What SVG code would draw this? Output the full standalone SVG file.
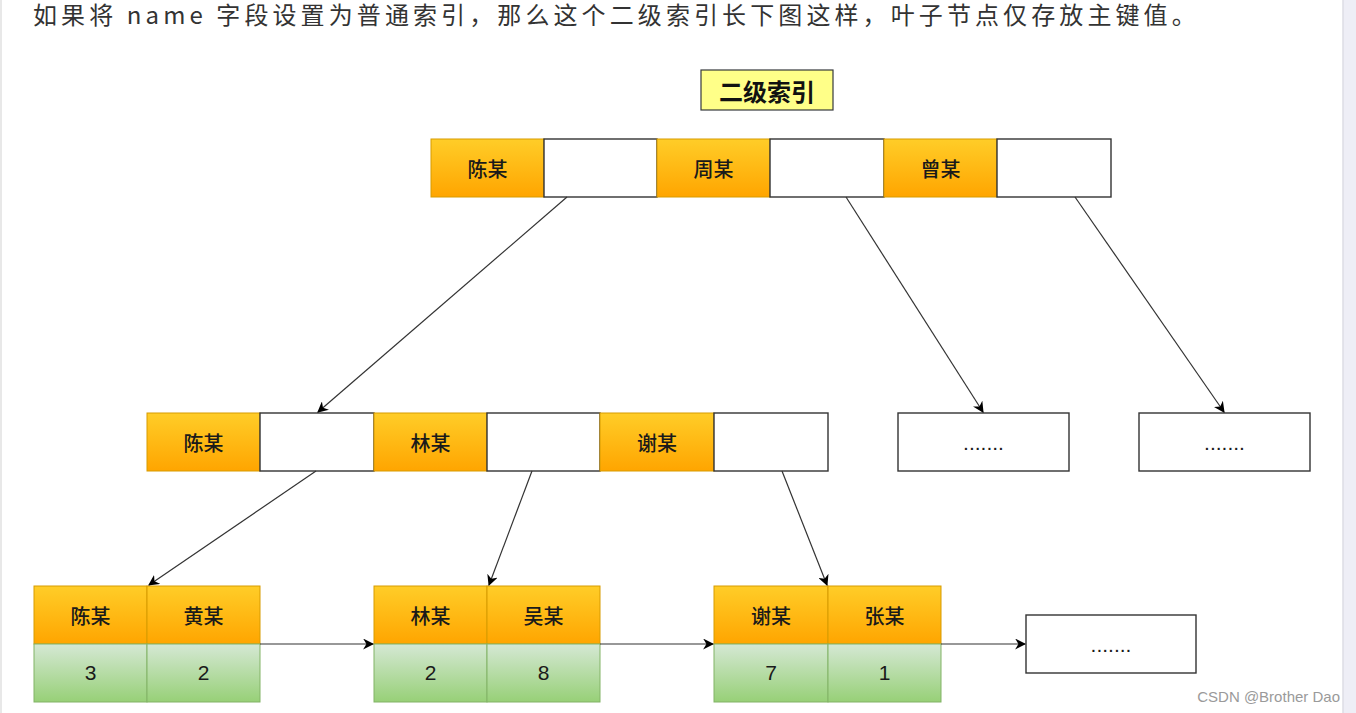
<svg xmlns="http://www.w3.org/2000/svg" width="1356" height="713" viewBox="0 0 1356 713">
<defs>
<linearGradient id="gOr" x1="0" y1="0" x2="0" y2="1"><stop offset="0" stop-color="#ffcd28"/><stop offset="1" stop-color="#ffa500"/></linearGradient>
<linearGradient id="gGr" x1="0" y1="0" x2="0" y2="1"><stop offset="0" stop-color="#d5e8d4"/><stop offset="1" stop-color="#97d077"/></linearGradient>
<marker id="ah" viewBox="0 0 10 10" refX="9" refY="5" markerWidth="11" markerHeight="11" markerUnits="userSpaceOnUse" orient="auto"><path d="M0,0 L10,5 L0,10 L3,5 Z" fill="#000"/></marker>
<style>
.or{fill:url(#gOr);stroke:#d79b00;stroke-width:1}
.gr{fill:url(#gGr);stroke:#82b366;stroke-width:1}
.wh{fill:#fff;stroke:#333;stroke-width:1.4}
.t{font-family:"Noto Sans CJK SC","Liberation Sans",sans-serif;font-size:20px;font-weight:500;fill:#1a1a1a;text-anchor:middle;dominant-baseline:central}
.n{font-family:"Liberation Sans",Arial,sans-serif;font-size:21px;fill:#1a1a1a;text-anchor:middle;dominant-baseline:central}
.c{fill:none;stroke:#333;stroke-width:1.2;marker-end:url(#ah)}
</style>
</defs>
<rect x="0" y="0" width="1356" height="713" fill="#fff"/>
<rect x="1343" y="0" width="13" height="713" fill="#eeeef6"/>
<line x1="1343" y1="0" x2="1343" y2="713" stroke="#dcdce4" stroke-width="1.5"/>
<line x1="1" y1="0" x2="1" y2="713" stroke="#e0e0e0" stroke-width="1.5"/>
<text x="33" y="24" font-family="Noto Sans CJK SC, Liberation Sans, sans-serif" font-size="24" letter-spacing="4.1" fill="#333">如果将 name 字段设置为普通索引，那么这个二级索引长下图这样，叶子节点仅存放主键值。</text>

<g id="title">
<rect x="701" y="70" width="132" height="40" fill="#ffff88" stroke="#36393d" stroke-width="1.2"/>
<text x="767" y="90" font-family="Noto Sans CJK SC, Liberation Sans, sans-serif" font-size="24" font-weight="bold" fill="#111" text-anchor="middle" dominant-baseline="central">二级索引</text>
</g>

<g id="root">
<rect class="or" x="431" y="139" width="113" height="58"/><text class="t" x="487.5" y="168">陈某</text>
<rect class="wh" x="544" y="139" width="113" height="58"/>
<rect class="or" x="657" y="139" width="113" height="58"/><text class="t" x="713.5" y="168">周某</text>
<rect class="wh" x="770" y="139" width="114" height="58"/>
<rect class="or" x="884" y="139" width="113" height="58"/><text class="t" x="940.5" y="168">曾某</text>
<rect class="wh" x="997" y="139" width="114" height="58"/>
</g>

<g id="mid">
<rect class="or" x="147" y="413" width="113" height="58"/><text class="t" x="203.5" y="442">陈某</text>
<rect class="wh" x="260" y="413" width="114" height="58"/>
<rect class="or" x="374" y="413" width="113" height="58"/><text class="t" x="430.5" y="442">林某</text>
<rect class="wh" x="487" y="413" width="113" height="58"/>
<rect class="or" x="600" y="413" width="114" height="58"/><text class="t" x="657" y="442">谢某</text>
<rect class="wh" x="714" y="413" width="114" height="58"/>
</g>

<g id="more1">
<rect class="wh" x="898" y="413" width="171" height="58"/><text class="n" x="983.5" y="442">.......</text>
</g>
<g id="more2">
<rect class="wh" x="1139" y="413" width="171" height="58"/><text class="n" x="1224.5" y="442">.......</text>
</g>

<g id="leaf1">
<rect class="or" x="34" y="586" width="113" height="58"/><text class="t" x="90.5" y="615">陈某</text>
<rect class="or" x="147" y="586" width="113" height="58"/><text class="t" x="203.5" y="615">黄某</text>
<rect class="gr" x="34" y="644" width="113" height="58"/><text class="n" x="90.5" y="672">3</text>
<rect class="gr" x="147" y="644" width="113" height="58"/><text class="n" x="203.5" y="672">2</text>
</g>
<g id="leaf2">
<rect class="or" x="374" y="586" width="113" height="58"/><text class="t" x="430.5" y="615">林某</text>
<rect class="or" x="487" y="586" width="113" height="58"/><text class="t" x="543.5" y="615">吴某</text>
<rect class="gr" x="374" y="644" width="113" height="58"/><text class="n" x="430.5" y="672">2</text>
<rect class="gr" x="487" y="644" width="113" height="58"/><text class="n" x="543.5" y="672">8</text>
</g>
<g id="leaf3">
<rect class="or" x="714" y="586" width="114" height="58"/><text class="t" x="771" y="615">谢某</text>
<rect class="or" x="828" y="586" width="113" height="58"/><text class="t" x="884.5" y="615">张某</text>
<rect class="gr" x="714" y="644" width="114" height="58"/><text class="n" x="771" y="672">7</text>
<rect class="gr" x="828" y="644" width="113" height="58"/><text class="n" x="884.5" y="672">1</text>
</g>
<g id="more3">
<rect class="wh" x="1026" y="615" width="170" height="58"/><text class="n" x="1111" y="644">.......</text>
</g>

<g id="connectors">
<line class="c" x1="567" y1="197" x2="318" y2="412"/>
<line class="c" x1="846" y1="197" x2="983" y2="412"/>
<line class="c" x1="1075" y1="197" x2="1224" y2="412"/>
<line class="c" x1="316" y1="471" x2="149" y2="585"/>
<line class="c" x1="532" y1="471" x2="489" y2="585"/>
<line class="c" x1="782" y1="471" x2="827" y2="585"/>
<line class="c" x1="260" y1="644" x2="373" y2="644"/>
<line class="c" x1="600" y1="644" x2="713" y2="644"/>
<line class="c" x1="941" y1="644" x2="1025" y2="644"/>
</g>

<text x="1340" y="702" font-family="Liberation Sans, Arial, sans-serif" font-size="15" fill="#9a9a9a" text-anchor="end">CSDN @Brother Dao</text>
</svg>
